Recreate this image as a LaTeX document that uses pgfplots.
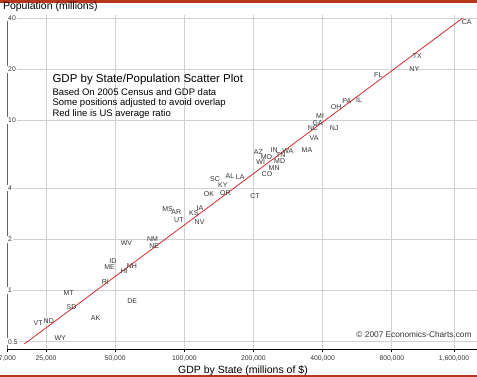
\documentclass[border=0pt]{standalone}
\usepackage{pgfplots}
\usepackage{pgfplotstable}
\pgfplotsset{compat=1.18}
\usepackage{fontspec}
\setmainfont{Liberation Sans}
\definecolor{barred}{HTML}{B8361C}
\definecolor{linered}{HTML}{D42A2A}
\definecolor{gridgray}{HTML}{D0D0D0}
\definecolor{txt}{HTML}{333333}

\pgfplotstableread{
x y label
1696000 37.9 CA
1034000 24.0 TX
1003000 20.1 NY
699000 18.5 FL
510000 13.06 PA
576000 13.2 IL
458000 11.9 OH
390000 10.57 MI
381000 9.70 GA
363000 9.06 NC
449000 9.06 NJ
367000 7.85 VA
342000 6.70 MA
246000 6.70 IN
282000 6.61 WA
210000 6.50 AZ
228000 6.07 MO
263000 6.24 TN
260000 5.80 MD
215000 5.67 WI
246000 5.27 MN
229000 4.82 CO
136000 4.52 SC
158000 4.71 AL
175000 4.67 LA
147000 4.17 KY
128000 3.68 OK
151000 3.76 OR
203000 3.61 CT
84500 3.00 MS
92200 2.88 AR
94700 2.59 UT
117000 3.07 IA
110000 2.84 KS
116500 2.52 NV
72700 2.00 NM
74000 1.826 NE
56000 1.895 WV
48900 1.485 ID
47300 1.369 ME
59100 1.394 NH
54800 1.307 HI
45300 1.117 RI
31400 0.971 MT
59300 0.871 DE
32300 0.803 SD
41100 0.686 AK
23100 0.641 VT
25700 0.662 ND
28800 0.528 WY
}\states

\begin{document}
\begin{tikzpicture}
\path[use as bounding box] (0pt,0pt) rectangle (477pt,377pt);
\fill[barred] (0pt,374pt) rectangle (477pt,377pt);
\fill[barred] (0pt,0pt) rectangle (477pt,2pt);
\begin{axis}[
  at={(7.3pt,27.7pt)}, anchor=south west,
  scale only axis, width=469.7pt, height=334.3pt,
  xmode=log, ymode=log,
  xmin=16960, xmax=1880000, ymin=0.451, ymax=41.67,
  axis x line*=bottom, axis y line*=left,
  x axis line style={black, line width=1.2pt, -},
  y axis line style={black!60, line width=0.6pt, -},
  xtick={16960,25000,50000,100000,200000,400000,800000,1492000},
  xticklabels={{7,000},{25,000},{50,000},{100,000},{200,000},{400,000},{800,000},{1,600,000}},
  ytick={0.5,1,2,4,10,20,40},
  yticklabels={0.5,1,2,4,10,20,40},
  minor tick num=0,
  log ticks with fixed point,
  tick align=outside,
  major tick length=3pt,
  xtick style={black, line width=0.6pt},
  ytick style={draw=none},
  grid=major,
  major grid style={gridgray, line width=0.7pt},
  /pgf/number format/assume math mode=true,
  tick label style={font=\fontsize{6.8}{8}\selectfont, text=txt},
  xticklabel style={yshift=0pt},
  yticklabel style={anchor=west, xshift=2.7pt, fill=white, inner sep=1pt},
  clip=false,
]
\addplot[linered, line width=0.8pt] coordinates {(20110,0.4846) (1629000,40.0)};
\addplot[draw=none, mark=none, nodes near coords, point meta=explicit symbolic,
  every node near coord/.append style={anchor=center, font=\fontsize{7}{8}\selectfont, text=txt, inner sep=0pt}]
  table[x=x, y=y, meta=label] {\states};
\end{axis}
\node[anchor=base west, font=\fontsize{10.5}{12}\selectfont, text=black] at (-0.5pt,367pt) {Population (millions)};
\node[anchor=base west, font=\fontsize{11.5}{13}\selectfont, text=black] at (49pt,294.5pt) {GDP by State/Population Scatter Plot};
\node[anchor=base west, font=\fontsize{9.5}{11}\selectfont, text=black] at (49pt,281.5pt) {Based On 2005 Census and GDP data};
\node[anchor=base west, font=\fontsize{9.5}{11}\selectfont, text=black] at (49pt,271pt) {Some positions adjusted to avoid overlap};
\node[anchor=base west, font=\fontsize{9.5}{11}\selectfont, text=black] at (49pt,260.5pt) {Red line is US average ratio};
\node[anchor=base, font=\fontsize{10.5}{12}\selectfont, text=black] at (243pt,3.8pt) {GDP by State (millions of \$)};
\node[anchor=base east, font=\fontsize{8.3}{10}\selectfont, text=txt] at (475pt,39.5pt) {© 2007 Economics-Charts.com};
\end{tikzpicture}
\end{document}
